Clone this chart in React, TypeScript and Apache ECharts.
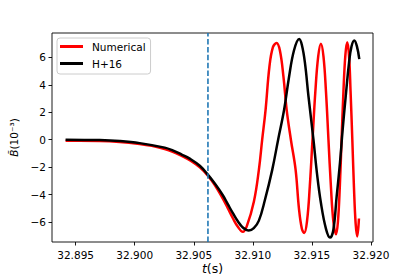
import React, { useEffect, useRef } from "react";
import * as echarts from "echarts";

const xTicks = [32.895, 32.9, 32.905, 32.91, 32.915, 32.92];
const yTicks = [-6, -4, -2, 0, 2, 4, 6];
const yRange = [-7.46, 7.78];
const eventTime = 32.9062;

const redT = [
  32.89415, 32.89534, 32.89703, 32.89873, 32.90042, 32.90144, 32.90254, 32.90322,
  32.90398, 32.90466, 32.90551, 32.90619, 32.90678, 32.90746, 32.90788, 32.90831,
  32.90873, 32.90915, 32.90949, 32.91009, 32.91051, 32.91079, 32.91108, 32.9114,
  32.9117, 32.91201, 32.91229, 32.91259, 32.91286, 32.91322, 32.91362, 32.9139,
  32.91415, 32.91435, 32.91459, 32.91482, 32.91505, 32.91529, 32.91553, 32.91576,
  32.91598, 32.91619, 32.9164, 32.91661, 32.91682, 32.91704, 32.9172, 32.91736,
  32.91751, 32.91767, 32.91783, 32.91799, 32.91814, 32.91827, 32.91842, 32.91856,
  32.9187, 32.91884, 32.91898,
];
const redB = [
  -0.08, -0.08, -0.09, -0.16, -0.31, -0.45, -0.68, -0.88,
  -1.18, -1.5, -2.02, -2.62, -3.3, -4.3, -5.0, -5.73,
  -6.35, -6.72, -6.3, -4.5, -2.2, 0, 2.2, 5.3,
  6.75, 7.05, 6.5, 4.6, 2.2, 0, -2.2, -5.0,
  -6.5, -6.8, -5.9, -3.4, 0, 3.5, 6.05, 7.0,
  6.06, 3.5, 0, -3.45, -6.0, -6.9, -6.0, -3.45,
  0, 3.55, 6.15, 7.1, 6.15, 3.55, 0, -3.5,
  -6.1, -7.05, -5.75,
];

const blackT = [
  32.89415, 32.89703, 32.89873, 32.90042, 32.90254, 32.90322, 32.90398, 32.90466,
  32.90551, 32.90619, 32.90678, 32.90746, 32.90788, 32.90831, 32.90873, 32.90915,
  32.90966, 32.91008, 32.91051, 32.91102, 32.91164, 32.91214, 32.91265, 32.91305,
  32.91348, 32.91392, 32.91415, 32.91441, 32.91471, 32.91513, 32.91542, 32.91576,
  32.91619, 32.91653, 32.91681, 32.91709, 32.91737, 32.9176, 32.91786, 32.91814,
  32.91835, 32.91859, 32.91881, 32.91901,
];
const blackB = [
  0.0, -0.03, -0.1, -0.25, -0.58, -0.78, -1.08, -1.38,
  -1.9, -2.55, -3.2, -4.05, -4.7, -5.36, -5.95, -6.4,
  -6.62, -6.45, -5.9, -4.4, -2.2, 0, 2.2, 4.5,
  6.5, 7.34, 6.9, 5.6, 3.15, 0, -2.4, -4.6,
  -6.5, -7.14, -6.6, -4.17, -1.73, 0.71, 3.15, 5.6,
  6.8, 7.24, 6.8, 5.88,
];

const FONT = "DejaVu Sans";

export default function App() {
  const ref = useRef<HTMLDivElement>(null);
  useEffect(() => {
    if (!ref.current) return;
    const chart = echarts.init(ref.current, null, { renderer: "svg" });
    const fmtY = (v: number) => (v < 0 ? "\u2212" + Math.abs(v) : String(v));
    chart.setOption({
      animation: false,
      backgroundColor: "#ffffff",
      textStyle: { fontFamily: FONT },
      grid: {
        left: 52,
        right: 42,
        top: 33,
        bottom: 35,
        outerBoundsMode: "none",
        containLabel: false,
        show: true,
        borderColor: "#000000",
        borderWidth: 0.9,
        backgroundColor: "transparent",
      },
      legend: {
        left: 57,
        top: 38,
        orient: "vertical",
        icon: "rect",
        itemWidth: 23,
        itemHeight: 3,
        itemGap: 6,
        padding: [3, 5, 5, 3],
        borderColor: "#cccccc",
        borderWidth: 1,
        borderRadius: 3,
        backgroundColor: "rgba(255,255,255,0.8)",
        textStyle: { fontFamily: FONT, fontSize: 10.5, color: "#000", lineHeight: 10, padding: [0, 0, 0, 4] },
        data: [
          { name: "Numerical", itemStyle: { color: "#ff0000" } },
          { name: "H+16", itemStyle: { color: "#000000" } },
        ],
      },
      xAxis: {
        type: "value",
        min: 32.893,
        max: 32.92017,
        name: "{i|t}(s)",
        nameLocation: "middle",
        nameGap: 20,
        nameMoveOverlap: false,
        nameTextStyle: {
          fontFamily: FONT,
          fontSize: 12.5,
          lineHeight: 13,
          color: "#000",
          rich: { i: { fontFamily: FONT, fontSize: 12.5, lineHeight: 13, fontStyle: "italic", color: "#000" } },
        },
        axisLine: { show: false, onZero: false },
        axisTick: { show: true, length: 3.5, lineStyle: { color: "#000", width: 0.9 }, customValues: xTicks },
        axisLabel: {
          customValues: xTicks,
          formatter: (v: number) => v.toFixed(3),
          fontFamily: FONT,
          fontSize: 10.5,
          color: "#000",
          margin: 7,
        },
        splitLine: { show: false },
      },
      yAxis: {
        type: "value",
        min: yRange[0],
        max: yRange[1],
        name: "{i|B\u0303}(10\u207B\u00B3)",
        nameLocation: "middle",
        nameRotate: 90,
        nameGap: 24,
        nameTextStyle: {
          fontFamily: FONT,
          fontSize: 10.5,
          color: "#000",
          rich: { i: { fontFamily: FONT, fontSize: 10.5, fontStyle: "italic", color: "#000" } },
        },
        axisLine: { show: false, onZero: false },
        axisTick: { show: true, length: 3.5, lineStyle: { color: "#000", width: 0.9 }, customValues: yTicks },
        axisLabel: {
          customValues: yTicks,
          formatter: fmtY,
          fontFamily: FONT,
          fontSize: 10.5,
          color: "#000",
          margin: 6,
        },
        splitLine: { show: false },
      },
      series: [
        {
          name: "Numerical",
          type: "line",
          data: redT.map((t, i) => [t, redB[i]]),
          showSymbol: false,
          smooth: 0.4,
          lineStyle: { color: "#ff0000", width: 2.5 },
          itemStyle: { color: "#ff0000" },
          z: 2,
        },
        {
          name: "H+16",
          type: "line",
          data: blackT.map((t, i) => [t, blackB[i]]),
          showSymbol: false,
          smooth: 0.4,
          lineStyle: { color: "#000000", width: 2.5 },
          itemStyle: { color: "#000000" },
          z: 3,
        },
        {
          name: "event",
          type: "line",
          data: [
            [eventTime, yRange[0]],
            [eventTime, yRange[1]],
          ],
          showSymbol: false,
          silent: true,
          lineStyle: { color: "#1f77b4", type: [5.5, 2.4], width: 1.6 },
          z: 4,
        },
      ],
    });
    return () => chart.dispose();
  }, []);
  return (
    <div
      ref={ref}
      style={{ position: "fixed", left: 0, top: 0, width: 415, height: 277 }}
    />
  );
}
